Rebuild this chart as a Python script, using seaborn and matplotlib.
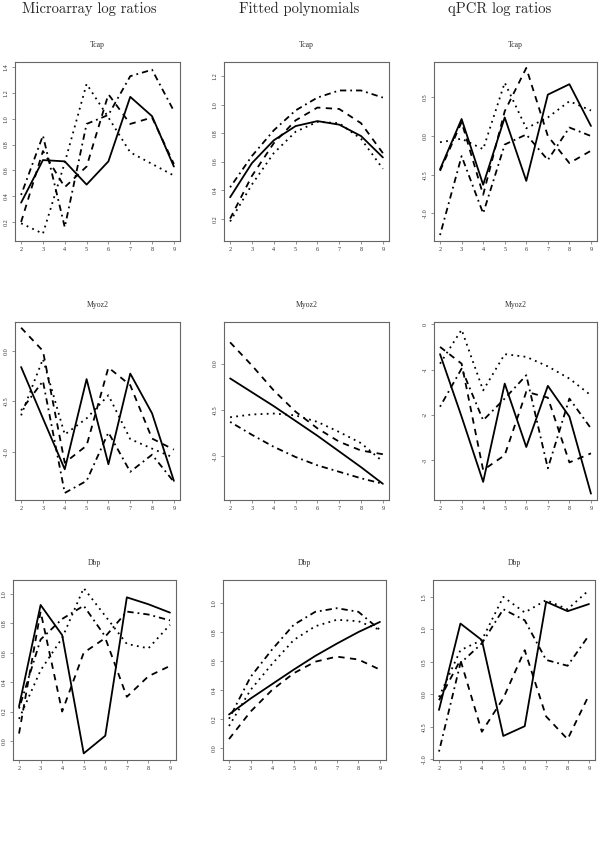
import numpy as np
import pandas as pd
import seaborn as sns
import matplotlib.pyplot as plt
from matplotlib.ticker import MultipleLocator, FormatStrFormatter

# x axis: time points
times = [2, 3, 4, 5, 6, 7, 8, 9]
line_names = ["solid", "dashed", "dotted", "dotdash"]

# values per panel, one row per line in order solid, dashed, dotted, dotdash
tcap_microarray = [
    [0.35, 0.68, 0.67, 0.49, 0.67, 1.17, 1.02, 0.63],
    [0.20, 0.75, 0.47, 0.63, 1.19, 0.96, 1.01, 0.65],
    [0.19, 0.11, 0.66, 1.27, 1.01, 0.74, 0.65, 0.56],
    [0.41, 0.87, 0.16, 0.96, 1.03, 1.33, 1.38, 1.06],
]
tcap_fitted = [
    [0.35, 0.59, 0.75, 0.85, 0.885, 0.86, 0.78, 0.63],
    [0.20, 0.50, 0.73, 0.89, 0.98, 0.97, 0.87, 0.66],
    [0.18, 0.44, 0.66, 0.81, 0.88, 0.87, 0.76, 0.55],
    [0.42, 0.64, 0.82, 0.96, 1.05, 1.10, 1.10, 1.05],
]
tcap_qpcr = [
    [-0.43, 0.22, -0.63, 0.24, -0.58, 0.535, 0.67, 0.13],
    [-0.45, 0.18, -0.76, 0.32, 0.88, 0.0, -0.35, -0.19],
    [-0.08, -0.035, -0.17, 0.69, 0.10, 0.24, 0.45, 0.33],
    [-1.28, -0.26, -1.0, -0.11, 0.02, -0.31, 0.11, 0.0],
]
myoz2_microarray = [
    [-0.16, -0.67, -1.175, -0.28, -1.125, -0.225, -0.62, -1.29],
    [0.23, 0.0, -1.11, -0.94, -0.165, -0.34, -0.87, -0.98],
    [-0.64, -0.08, -0.83, -0.67, -0.44, -0.875, -0.97, -1.06],
    [-0.59, -0.30, -1.41, -1.29, -0.81, -1.20, -1.03, -1.30],
]
myoz2_fitted = [
    [-0.16, -0.31, -0.46, -0.62, -0.78, -0.95, -1.12, -1.30],
    [0.23, -0.02, -0.29, -0.52, -0.70, -0.845, -0.94, -0.98],
    [-0.58, -0.55, -0.54, -0.56, -0.63, -0.74, -0.86, -1.06],
    [-0.63, -0.77, -0.90, -1.01, -1.10, -1.17, -1.24, -1.30],
]
myoz2_qpcr = [
    [-0.66, -2.04, -3.48, -1.31, -2.71, -1.36, -2.04, -3.74],
    [-0.50, -0.87, -3.22, -2.89, -1.49, -1.62, -3.05, -2.85],
    [-0.87, -0.12, -1.46, -0.66, -0.72, -0.93, -1.20, -1.57],
    [-1.82, -0.98, -2.12, -1.64, -1.125, -3.18, -1.64, -2.30],
]
dbp_microarray = [
    [0.235, 0.925, 0.72, -0.085, 0.035, 0.977, 0.93, 0.873],
    [0.05, 0.88, 0.20, 0.60, 0.70, 0.30, 0.44, 0.51],
    [0.15, 0.48, 0.70, 1.04, 0.85, 0.66, 0.63, 0.79],
    [0.22, 0.69, 0.83, 0.92, 0.71, 0.88, 0.86, 0.82],
]
dbp_fitted = [
    [0.23, 0.34, 0.44, 0.54, 0.635, 0.72, 0.80, 0.87],
    [0.06, 0.25, 0.40, 0.515, 0.595, 0.63, 0.61, 0.54],
    [0.15, 0.40, 0.58, 0.745, 0.84, 0.885, 0.875, 0.815],
    [0.20, 0.49, 0.68, 0.85, 0.94, 0.965, 0.94, 0.815],
]
dbp_qpcr = [
    [-0.24, 1.09, 0.835, -0.64, -0.49, 1.425, 1.28, 1.39],
    [-0.09, 0.53, -0.575, -0.06, 0.68, -0.34, -0.69, -0.01],
    [-0.04, 0.68, 0.835, 1.50, 1.26, 1.45, 1.31, 1.605],
    [-0.88, 0.48, 0.785, 1.31, 1.14, 0.53, 0.44, 0.91],
]

column_titles = ["Microarray log ratios", "Fitted polynomials", "qPCR log ratios"]
gene_names = ["Tcap", "Myoz2", "Dbp"]

###############################>STYLE<###############################
sns.set_style("ticks")
plt.rcParams["font.family"] = ["Liberation Serif", "DejaVu Serif"]
plt.rcParams["axes.unicode_minus"] = False

W, H = 600, 842
fig = plt.figure(figsize=(W / 100, H / 100), dpi=100)

dash_map = {"solid": "", "dashed": (3.5, 3), "dotted": (1, 2.4), "dotdash": (1, 2.2, 3.5, 2.2)}

# panel boxes in pixels: (left, top, right, bottom)
rows_px = [(62, 241), (322, 500), (580, 760)]
cols_px = [[(15, 180), (224, 389), (434, 597)],
           [(15, 180), (224, 389), (434, 597)],
           [(13, 176), (223, 386), (433, 595)]]

# (data, ylim, tick step, tick format)
panels = [
    [(tcap_microarray, (0.053, 1.44), 0.2, "%.1f"),
     (tcap_fitted, (0.043, 1.30), 0.2, "%.1f"),
     (tcap_qpcr, (-1.357, 0.957), 0.5, "%.1f")],
    [(myoz2_microarray, (-1.48, 0.287), 0.5, "%.1f"),
     (myoz2_fitted, (-1.475, 0.45), 0.5, "%.1f"),
     (myoz2_qpcr, (-3.88, 0.05), 1.0, "%d")],
    [(dbp_microarray, (-0.13, 1.095), 0.2, "%.1f"),
     (dbp_fitted, (-0.085, 1.16), 0.2, "%.1f"),
     (dbp_qpcr, (-1.01, 1.76), 0.5, "%.1f")],
]

for r in range(3):
    top, bottom = rows_px[r]
    for c in range(3):
        left, right = cols_px[r][c]
        values, ylim, step, fmt = panels[r][c]
        ax = fig.add_axes([left / W, 1 - bottom / H, (right - left) / W, (bottom - top) / H])
        df = pd.DataFrame({
            "time": times * len(line_names),
            "value": sum(values, []),
            "line": np.repeat(line_names, len(times)),
        })
        sns.lineplot(data=df, x="time", y="value", style="line", style_order=line_names,
                     dashes=dash_map, color="black", lw=1.3, legend=False,
                     errorbar=None, ax=ax)
        ax.set_xlim(1.72, 9.28)
        ax.set_ylim(*ylim)
        ax.set_xticks(times)
        ax.yaxis.set_major_locator(MultipleLocator(step))
        ax.yaxis.set_major_formatter(FormatStrFormatter(fmt))
        ax.set_xlabel("")
        ax.set_ylabel("")
        for sp in ax.spines.values():
            sp.set_color("#666666")
            sp.set_linewidth(0.8)
        ax.tick_params(length=2.4, width=0.5, color="#666666", labelsize=4.4,
                       labelcolor="#333333", pad=2)
        plt.setp(ax.get_yticklabels(), rotation=90, va="center", ha="right")
        ax.annotate(gene_names[r], xy=(0.5, 1), xycoords="axes fraction",
                    xytext=(0, 12.5), textcoords="offset points",
                    ha="center", va="center", fontsize=5.6, color="#333333")

header_x = [89, 299, 500]
for c in range(3):
    fig.text(header_x[c] / W, 1 - 12.7 / H, column_titles[c], family="cmr10",
             fontsize=10.5, ha="center", va="baseline")

plt.savefig("out.png", dpi=100)
